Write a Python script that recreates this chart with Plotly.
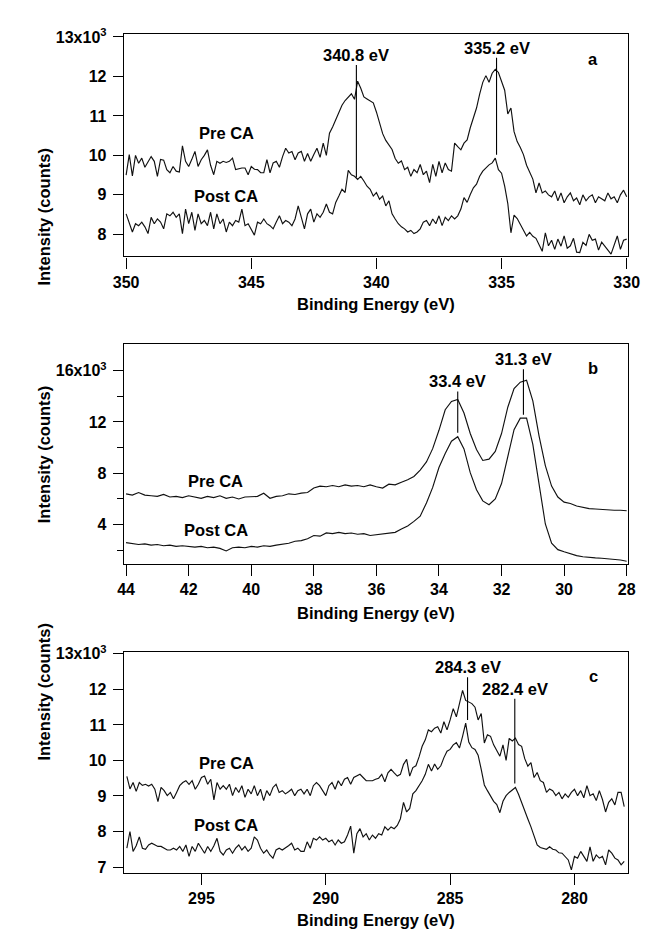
import plotly.graph_objects as go

FONT = "Liberation Sans, Arial, Helvetica, sans-serif"

# ---------------- data ----------------
# Panel a : 350 -> 330 eV, step 0.125 eV  (intensity in 10^3 counts)
a_start, a_step = 350.0, 0.125
a_pre = [
    9.50, 10.02, 9.48, 10.00, 9.80, 9.93, 9.70, 9.85, 9.97, 9.85,
    9.47, 9.90, 9.88, 9.64, 9.56, 9.72, 9.60, 9.58, 10.24, 9.85,
    9.72, 9.90, 10.10, 9.72, 9.89, 10.00, 10.14, 9.75, 9.51, 9.85,
    9.80, 9.85, 9.82, 9.85, 9.93, 9.64, 9.66, 9.68, 9.68, 9.51,
    9.72, 9.65, 9.64, 9.56, 9.56, 9.89, 9.56, 9.81, 9.85, 9.70,
    9.97, 10.18, 10.06, 10.10, 9.89, 10.06, 10.10, 9.85, 10.05, 9.85,
    10.02, 10.18, 9.95, 10.31, 10.00, 10.56, 10.72, 10.89, 11.06, 11.27,
    11.39, 11.48, 11.56, 11.42, 11.88, 11.70, 11.48, 11.43, 11.38, 11.33,
    11.10, 10.85, 10.55, 10.38, 10.25, 10.15, 9.92, 9.80, 9.86, 9.64,
    9.70, 9.47, 9.64, 9.56, 9.77, 9.51, 9.60, 9.31, 9.77, 9.47,
    9.85, 9.56, 9.81, 9.64, 9.60, 10.31, 10.22, 10.14, 10.31, 10.39,
    10.70, 10.95, 11.20, 11.55, 11.85, 12.02, 11.85, 12.08, 12.18, 12.10,
    11.85, 11.65, 11.05, 11.20, 10.60, 10.35, 10.20, 10.02, 9.75, 9.55,
    9.40, 9.05, 9.30, 9.05, 9.10, 9.00, 8.95, 9.10, 8.85, 9.05,
    8.80, 8.95, 9.05, 8.85, 8.92, 8.75, 9.00, 8.85, 8.95, 9.00,
    8.80, 8.95, 8.90, 8.85, 9.05, 8.90, 8.95, 8.80, 9.00, 9.12, 8.95,
]
a_post = [
    8.52, 8.31, 8.06, 8.27, 8.22, 8.31, 8.19, 8.02, 8.43, 8.27,
    8.39, 8.31, 8.14, 8.52, 8.47, 8.56, 8.43, 8.52, 8.02, 8.64,
    8.27, 8.56, 8.10, 8.52, 8.27, 8.35, 8.22, 8.56, 8.14, 8.52,
    8.27, 8.39, 8.06, 8.31, 8.22, 8.35, 8.31, 8.64, 8.22, 8.27,
    8.14, 7.98, 8.31, 8.27, 8.39, 8.27, 8.22, 8.14, 8.31, 8.47,
    8.27, 8.35, 8.31, 8.22, 8.39, 8.72, 8.43, 8.14, 8.52, 8.64,
    8.31, 8.52, 8.43, 8.56, 8.77, 8.56, 8.52, 8.81, 8.97, 9.14,
    9.06, 9.62, 9.51, 9.47, 9.39, 9.47, 9.35, 9.22, 9.14, 8.97,
    9.06, 8.89, 8.97, 8.72, 8.85, 8.52, 8.39, 8.27, 8.19, 8.14,
    8.06, 8.10, 8.02, 8.06, 8.14, 8.31, 8.35, 8.22, 8.39, 8.27,
    8.47, 8.22, 8.43, 8.35, 8.47, 8.39, 8.47, 8.64, 8.93, 8.81,
    9.01, 9.18, 9.27, 9.47, 9.60, 9.68, 9.76, 9.81, 9.93, 9.64,
    9.55, 9.22, 8.78, 8.04, 8.49, 8.40, 8.25, 8.07, 7.96, 8.05,
    7.95, 7.90, 7.75, 7.57, 8.04, 7.71, 7.85, 7.62, 7.88, 7.70,
    7.96, 7.65, 7.71, 7.90, 7.55, 7.54, 7.80, 7.72, 8.00, 7.85,
    7.88, 7.60, 7.80, 7.71, 7.60, 7.50, 7.75, 7.96, 7.62, 7.85, 7.88,
]
a_peaks = [340.8, 335.2]
a_peak_top = [12.29, 12.475]
a_peak_bottom = [9.44, 10.015]
a_xticks = [350, 345, 340, 335, 330]
a_yticks = [8, 9, 10, 11, 12, 13]
a_yticktext = ["8", "9", "10", "11", "12", "13x10<sup>3</sup>"]
a_label_x = [346.0, 346.0]
a_label_y = [10.56, 8.96]

# Panel b : 44 -> 28 eV, step 0.2 eV
b_start, b_step = 44.0, 0.2
b_pre = [
    6.40, 6.30, 6.50, 6.30, 6.25, 6.20, 6.35, 6.15, 6.20, 6.10,
    6.25, 6.15, 6.05, 6.20, 6.10, 6.25, 6.05, 6.15, 6.00, 6.15,
    6.20, 6.20, 6.45, 6.05, 6.20, 6.25, 6.40, 6.35, 6.45, 6.50,
    6.85, 7.00, 6.95, 7.05, 6.95, 7.10, 7.00, 7.05, 6.95, 7.10,
    6.95, 6.85, 7.15, 7.10, 7.30, 7.49, 7.75, 8.25, 8.89, 9.92,
    11.35, 12.95, 13.60, 13.75, 12.70, 11.10, 9.85, 9.00, 9.10, 9.70,
    11.10, 13.15, 14.60, 15.10, 15.25, 13.65, 10.90, 8.60, 7.00, 6.15,
    5.75, 5.65, 5.45, 5.35, 5.25, 5.22, 5.18, 5.15, 5.12, 5.12,
    5.08,
]
b_post = [
    2.60, 2.55, 2.45, 2.50, 2.40, 2.45, 2.35, 2.40, 2.30, 2.35,
    2.30, 2.25, 2.30, 2.20, 2.25, 2.15, 1.95, 2.20, 2.25, 2.20,
    2.30, 2.25, 2.35, 2.30, 2.40, 2.45, 2.55, 2.70, 2.75, 2.90,
    3.15, 3.10, 3.35, 3.30, 3.40, 3.30, 3.35, 3.25, 3.30, 3.15,
    3.20, 3.25, 3.35, 3.40, 3.65, 3.90, 4.25, 4.66, 5.69, 6.90,
    8.45, 9.55, 10.50, 10.85, 9.90, 8.05, 6.72, 5.85, 5.55, 6.00,
    7.20, 9.30, 11.40, 12.30, 12.30, 10.25, 6.95, 4.05, 2.55, 2.05,
    1.88, 1.72, 1.58, 1.50, 1.44, 1.41, 1.38, 1.35, 1.30, 1.24,
    1.15,
]
b_peaks = [33.4, 31.3]
b_peak_top = [14.38, 16.1]
b_peak_bottom = [11.15, 12.56]
b_xticks = [44, 42, 40, 38, 36, 34, 32, 30, 28]
b_yticks = [4, 8, 12, 16]
b_yticktext = ["4", "8", "12", "16x10<sup>3</sup>"]
b_yminor = [2, 6, 10, 14]
b_label_x = [41.14, 41.14]
b_label_y = [7.38, 3.58]

# Panel c : 298 -> 278 eV, step 0.125 eV
c_start, c_step = 298.0, 0.125
c_pre = [
    9.55, 9.20, 9.38, 9.13, 9.38, 9.30, 9.33, 9.28, 9.33, 9.19,
    8.84, 9.24, 9.15, 9.01, 9.10, 8.92, 9.10, 9.29, 9.38, 9.43,
    9.33, 9.43, 9.19, 9.33, 9.52, 9.56, 9.33, 9.47, 8.89, 9.38,
    9.19, 9.29, 9.19, 9.33, 9.01, 9.24, 9.10, 9.29, 8.96, 9.19,
    9.06, 9.29, 9.01, 9.19, 8.87, 9.15, 9.01, 9.24, 9.33, 9.10,
    9.15, 9.06, 9.12, 9.19, 9.01, 9.15, 9.19, 9.06, 9.19, 9.01,
    9.29, 9.38, 9.29, 9.15, 9.01, 9.29, 9.38, 9.19, 9.43, 9.29,
    9.47, 9.52, 9.33, 9.52, 9.56, 9.61, 9.52, 9.43, 9.43, 9.43,
    9.47, 9.50, 9.61, 9.40, 9.65, 9.75, 9.65, 9.56, 9.61, 9.89,
    10.03, 9.56, 9.80, 9.85, 10.10, 10.40, 10.58, 10.86, 10.81, 10.91,
    10.95, 10.77, 11.09, 10.86, 11.14, 11.46, 11.23, 11.56, 11.97, 11.69,
    11.65, 11.60, 11.50, 11.14, 11.32, 10.49, 10.72, 10.68, 10.44, 10.26,
    10.12, 10.44, 10.00, 10.62, 10.55, 10.63, 10.45, 10.40, 10.05, 9.84,
    9.94, 9.52, 9.66, 9.43, 9.38, 9.10, 9.20, 9.15, 9.01, 9.10,
    8.92, 9.06, 8.96, 9.10, 9.19, 9.01, 9.15, 8.95, 9.29, 9.01,
    9.06, 8.87, 9.15, 8.90, 8.55, 8.82, 8.92, 8.75, 9.10, 9.10, 8.70,
]
c_post = [
    7.53, 8.00, 7.44, 7.60, 7.85, 7.53, 7.50, 7.62, 7.67, 7.62,
    7.58, 7.58, 7.53, 7.48, 7.48, 7.53, 7.48, 7.58, 7.44, 7.62,
    7.30, 7.58, 7.44, 7.67, 7.53, 7.39, 7.58, 7.44, 7.60, 7.81,
    7.44, 7.34, 7.48, 7.53, 7.39, 7.53, 7.62, 7.48, 7.58, 7.44,
    7.53, 7.85, 7.76, 7.53, 7.39, 7.48, 7.34, 7.25, 7.48, 7.53,
    7.48, 7.53, 7.60, 7.67, 7.48, 7.53, 7.44, 7.44, 7.71, 7.53,
    7.81, 7.76, 7.85, 7.76, 7.81, 7.71, 7.76, 7.62, 7.76, 7.67,
    7.71, 7.90, 8.15, 7.39, 7.94, 8.08, 7.85, 7.94, 7.76, 7.90,
    7.81, 7.94, 7.90, 8.13, 8.04, 8.13, 8.08, 8.17, 8.36, 8.82,
    8.55, 8.65, 9.06, 9.15, 9.29, 9.43, 9.61, 9.89, 9.70, 9.90,
    9.75, 9.85, 10.08, 10.26, 10.31, 10.44, 10.50, 10.35, 10.68, 11.05,
    10.52, 10.36, 10.31, 10.15, 9.75, 9.31, 9.15, 9.01, 8.85, 8.76,
    8.53, 8.85, 9.01, 9.10, 9.18, 9.24, 9.05, 8.80, 8.55, 8.35,
    8.13, 7.90, 7.62, 7.55, 7.52, 7.50, 7.57, 7.50, 7.48, 7.40,
    7.39, 7.30, 7.20, 6.92, 7.30, 7.25, 7.44, 7.30, 7.16, 7.57,
    7.16, 7.34, 7.25, 7.30, 7.06, 7.48, 7.39, 7.25, 7.20, 7.06, 7.16,
]
c_peaks = [284.3, 282.4]
c_peak_top = [12.34, 11.74]
c_peak_bottom = [11.14, 9.35]
c_xticks = [295, 290, 285, 280]
c_yticks = [7, 8, 9, 10, 11, 12, 13]
c_yticktext = ["7", "8", "9", "10", "11", "12", "13x10<sup>3</sup>"]
c_label_x = [294.0, 294.0]
c_label_y = [9.94, 8.18]

series_names = ["Pre CA", "Post CA"]
panel_letters = ["a", "b", "c"]


def energies(start, step, n):
    return [round(start - step * i, 4) for i in range(n)]


# ---------------- layout geometry ----------------
W, H = 652, 931
x_dom = [117 / W, 639.5 / W]
y_doms = [
    [1 - 250.7 / H, 1 - 25.7 / H],
    [1 - 562.0 / H, 1 - 339.7 / H],
    [1 - 875.0 / H, 1 - 651.5 / H],
]
x_ranges = [[350.09, 329.95], [44.07, 27.96], [298.12, 277.85]]
y_ranges = [[7.44, 13.065], [0.95, 18.05], [6.84, 13.05]]
xtitle_y = [1 - 299 / H, 1 - 611.5 / H, 1 - 923 / H]

panels = [
    dict(x=energies(a_start, a_step, len(a_pre)), pre=a_pre, post=a_post,
         peaks=a_peaks, top=a_peak_top, bot=a_peak_bottom, xt=a_xticks,
         yt=a_yticks, ytt=a_yticktext, minor=None, lx=a_label_x, ly=a_label_y),
    dict(x=energies(b_start, b_step, len(b_pre)), pre=b_pre, post=b_post,
         peaks=b_peaks, top=b_peak_top, bot=b_peak_bottom, xt=b_xticks,
         yt=b_yticks, ytt=b_yticktext, minor=b_yminor, lx=b_label_x, ly=b_label_y),
    dict(x=energies(c_start, c_step, len(c_pre)), pre=c_pre, post=c_post,
         peaks=c_peaks, top=c_peak_top, bot=c_peak_bottom, xt=c_xticks,
         yt=c_yticks, ytt=c_yticktext, minor=None, lx=c_label_x, ly=c_label_y),
]

LINE = dict(color="#111111", width=1.15)
tickfont = dict(family=FONT, size=16, color="black", weight="bold")
annfont = dict(family=FONT, size=16.5, color="black", weight="bold")

fig = go.Figure()
annotations = []
layout = {}

for k, p in enumerate(panels):
    n = "" if k == 0 else str(k + 1)
    xa, ya = "x" + n, "y" + n
    for name, vals in zip(series_names, (p["pre"], p["post"])):
        fig.add_trace(go.Scatter(x=p["x"], y=vals, mode="lines", line=LINE,
                                 name=name, xaxis=xa, yaxis=ya,
                                 showlegend=False, hoverinfo="skip"))
    for pk, t, b in zip(p["peaks"], p["top"], p["bot"]):
        fig.add_trace(go.Scatter(x=[pk, pk], y=[t, b], mode="lines",
                                 line=dict(color="black", width=1.1),
                                 xaxis=xa, yaxis=ya, showlegend=False,
                                 hoverinfo="skip"))
        annotations.append(dict(x=pk, y=t, xref=xa, yref=ya, text=f"{pk} eV",
                                showarrow=False, yanchor="middle", yshift=10,
                                font=annfont))
    for name, lx, ly in zip(series_names, p["lx"], p["ly"]):
        annotations.append(dict(x=lx, y=ly, xref=xa, yref=ya, text=name,
                                showarrow=False, font=annfont))
    annotations.append(dict(x=0.945, y=0.94, xref=xa + " domain",
                            yref=ya + " domain", text=panel_letters[k],
                            showarrow=False, font=annfont))
    # axis titles
    annotations.append(dict(x=0.5 * (x_dom[0] + x_dom[1]), y=xtitle_y[k],
                            xref="paper", yref="paper",
                            text="Binding Energy (eV)", showarrow=False,
                            yanchor="middle", font=annfont))
    annotations.append(dict(x=23 / W, y=0.5 * (y_doms[k][0] + y_doms[k][1]),
                            xref="paper", yref="paper",
                            text="Intensity (counts)", textangle=-90,
                            showarrow=False, font=annfont))

    common = dict(showline=True, linecolor="black", linewidth=1.3, mirror=True,
                  ticks="outside", tickcolor="black", tickwidth=1.2,
                  showgrid=False, zeroline=False, tickfont=tickfont)
    layout["xaxis" + n] = dict(common, domain=x_dom, range=x_ranges[k],
                               anchor=ya, tickmode="array", tickvals=p["xt"],
                               ticktext=[str(v) for v in p["xt"]], ticklen=11)
    yax = dict(common, domain=y_doms[k], range=y_ranges[k], anchor=xa,
               tickmode="array", tickvals=p["yt"], ticktext=p["ytt"],
               ticklen=10, ticklabelstandoff=3)
    if p["minor"]:
        yax["minor"] = dict(tickmode="array", tickvals=p["minor"],
                            ticks="outside", ticklen=6, tickcolor="black",
                            tickwidth=1.2)
    layout["yaxis" + n] = yax

fig.update_layout(
    width=W, height=H,
    margin=dict(l=0, r=0, t=0, b=0),
    paper_bgcolor="white", plot_bgcolor="white",
    annotations=annotations,
    **layout,
)

fig.write_html("out.html")
